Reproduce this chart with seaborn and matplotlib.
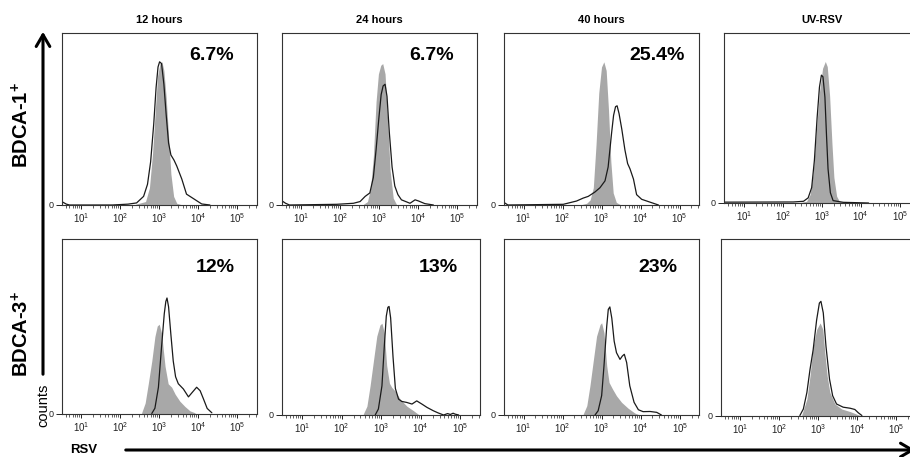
import numpy as np
import matplotlib
matplotlib.use("Agg")
import matplotlib.pyplot as plt
from matplotlib.patches import FancyArrowPatch
from matplotlib.ticker import LogLocator, NullFormatter, FixedLocator
import seaborn as sns

# ---------------- data (x in log10 units of RSV fluorescence, y = % of panel height) -------------
col_titles = ["12 hours", "24 hours", "40 hours", "UV-RSV"]
row_labels = ["BDCA-1$^{+}$", "BDCA-3$^{+}$"]
pct_row1 = ["6.7%", "6.7%", "25.4%", ""]
pct_row2 = ["12%", "13%", "23%", ""]
xtick_labels = ["$10^{1}$", "$10^{2}$", "$10^{3}$", "$10^{4}$", "$10^{5}$"]

r1c1_gray_x = [2.40, 2.65, 2.75, 2.83, 2.90, 2.96, 3.02, 3.07, 3.12, 3.18, 3.24, 3.30, 3.37, 3.45, 3.60]
r1c1_gray_y = [0.5, 2, 10, 30, 55, 75, 82, 83, 78, 62, 40, 18, 5, 1, 0]
r1c1_line_x = [0.50, 0.62, 0.70, 1.80, 2.20, 2.42, 2.60, 2.70, 2.78, 2.86, 2.92, 2.97, 3.01, 3.06,
               3.12, 3.18, 3.24, 3.30, 3.38, 3.45, 3.58, 3.70, 3.83, 3.96, 4.09, 4.30]
r1c1_line_y = [2, 0.5, 0, 0, 0.5, 1.2, 5, 12, 25, 47, 68, 80, 83, 82, 70, 52, 36, 29, 26, 22.6, 15,
               6.3, 4.4, 2.5, 0.6, 0]

r1c2_gray_x = [2.60, 2.70, 2.78, 2.85, 2.92, 2.98, 3.04, 3.09, 3.15, 3.21, 3.28, 3.36, 3.45]
r1c2_gray_y = [0.5, 2, 10, 28, 60, 76, 81, 82, 76, 52, 20, 4, 0]
r1c2_line_x = [0.50, 0.60, 0.70, 1.91, 2.34, 2.51, 2.64, 2.76, 2.85, 2.92, 2.99, 3.05, 3.10, 3.15,
               3.20, 3.26, 3.33, 3.40, 3.48, 3.57, 3.79, 3.92, 4.00, 4.17, 4.39]
r1c2_line_y = [2.5, 1, 0, 0.4, 1, 2, 5, 7, 16, 32, 50, 64, 69, 70, 63, 42, 22, 11, 6, 3, 1, 3, 2.4,
               0.8, 0]

r1c3_gray_x = [2.50, 2.62, 2.71, 2.79, 2.86, 2.93, 3.00, 3.06, 3.12, 3.18, 3.24, 3.30, 3.38, 3.47]
r1c3_gray_y = [0.3, 1, 3, 10, 35, 65, 80, 83, 78, 55, 25, 7, 1.5, 0.4]
r1c3_line_x = [0.50, 0.60, 2.02, 2.36, 2.53, 2.66, 2.83, 2.96, 3.09, 3.17, 3.26, 3.31, 3.36, 3.40,
               3.45, 3.52, 3.60, 3.67, 3.73, 3.82, 3.90, 4.03, 4.16, 4.33, 4.46]
r1c3_line_y = [1.5, 0, 0.4, 2.3, 4, 5, 7.5, 10, 14, 22, 42, 52, 57, 57.5, 53, 44, 32, 24, 21, 15, 6,
               3.3, 2.3, 1, 0]

r1c4_gray_x = [2.45, 2.61, 2.70, 2.78, 2.86, 2.94, 3.02, 3.09, 3.14, 3.20, 3.26, 3.31, 3.38, 3.45, 3.55]
r1c4_gray_y = [0.3, 1, 5, 18, 42, 65, 79, 83, 80, 63, 35, 15, 4, 1, 0.6]
r1c4_line_x = [0.50, 2.27, 2.53, 2.65, 2.74, 2.81, 2.88, 2.94, 2.99, 3.03, 3.08, 3.12, 3.16, 3.22,
               3.29, 3.55, 3.89, 4.20]
r1c4_line_y = [0.5, 0.6, 1, 3, 9, 25, 50, 68, 75, 74, 62, 40, 20, 6, 1.4, 0.4, 0.2, 0]

r2c1_gray_x = [2.55, 2.64, 2.72, 2.81, 2.89, 2.95, 3.00, 3.06, 3.15, 3.23, 3.32, 3.41, 3.53, 3.66,
               3.79, 3.92]
r2c1_gray_y = [0.4, 6, 17, 30, 44, 50, 51, 46, 27, 17, 15, 11, 7, 4, 1.5, 0.4]
r2c1_line_x = [2.81, 2.89, 2.98, 3.06, 3.13, 3.17, 3.20, 3.24, 3.30, 3.36, 3.42, 3.49, 3.62, 3.75,
               3.86, 3.96, 4.05, 4.13, 4.23, 4.35]
r2c1_line_y = [0, 3, 15, 38, 57, 64, 66, 61, 45, 30, 21, 17, 14, 9.5, 12.4, 15, 13, 8.6, 2.9, 0.4]

r2c2_gray_x = [2.55, 2.64, 2.72, 2.81, 2.89, 2.97, 3.02, 3.08, 3.14, 3.21, 3.27, 3.35, 3.48, 3.65,
               3.82, 3.94]
r2c2_gray_y = [0.6, 5, 16.5, 31.5, 44.7, 51, 52, 46.5, 28, 18, 15.6, 13.7, 9, 5, 2.4, 0.4]
r2c2_line_x = [2.85, 2.93, 3.02, 3.08, 3.13, 3.17, 3.20, 3.24, 3.30, 3.36, 3.44, 3.52, 3.65, 3.78,
               3.90, 4.03, 4.16, 4.32, 4.45, 4.58, 4.68, 4.75, 4.82, 4.87, 4.96]
r2c2_line_y = [0, 3.4, 16.5, 39, 56, 61, 61.5, 55, 33, 15, 9, 7.7, 7.1, 6.2, 8, 6.2, 4.3, 2.4, 1.1,
               0, 0.8, 0.3, 1, 0.5, 0]

r2c3_gray_x = [2.53, 2.62, 2.70, 2.79, 2.87, 2.96, 3.00, 3.06, 3.13, 3.19, 3.28, 3.38, 3.51, 3.68,
               3.85, 3.94]
r2c3_gray_y = [0.6, 5.3, 16.6, 31.6, 44.8, 51.4, 52.4, 46.7, 27.9, 18.5, 14.7, 10.9, 7.2, 3.8, 1.1, 0.3]
r2c3_line_x = [2.83, 2.91, 3.00, 3.06, 3.13, 3.17, 3.21, 3.26, 3.32, 3.38, 3.47, 3.53, 3.58, 3.64,
               3.72, 3.83, 3.94, 4.06, 4.24, 4.41, 4.53]
r2c3_line_y = [0, 2.4, 11, 28, 50.5, 60, 61.4, 55, 42, 35.4, 31.6, 33.5, 34.5, 29.8, 16.6, 7.2, 3,
               1.9, 2, 1.5, 0]

r2c4_gray_x = [2.58, 2.71, 2.79, 2.87, 2.96, 3.05, 3.12, 3.17, 3.23, 3.30, 3.43, 3.60, 3.82, 3.99, 4.07]
r2c4_gray_y = [0.4, 9.3, 22.4, 39, 48.6, 52.3, 48.6, 35.5, 22.4, 13, 6.5, 3.7, 2.2, 0.7, 0]
r2c4_line_x = [2.53, 2.62, 2.71, 2.79, 2.87, 2.96, 3.03, 3.07, 3.13, 3.20, 3.29, 3.37, 3.47, 3.64,
               3.82, 3.94, 4.03, 4.12]
r2c4_line_y = [0, 3.7, 13, 26, 37, 54, 63.5, 64.5, 58, 39, 20.6, 11.2, 6.5, 4.7, 4.1, 3.4, 1.5, 0]

gray_x = [[r1c1_gray_x, r1c2_gray_x, r1c3_gray_x, r1c4_gray_x],
          [r2c1_gray_x, r2c2_gray_x, r2c3_gray_x, r2c4_gray_x]]
gray_y = [[r1c1_gray_y, r1c2_gray_y, r1c3_gray_y, r1c4_gray_y],
          [r2c1_gray_y, r2c2_gray_y, r2c3_gray_y, r2c4_gray_y]]
line_x = [[r1c1_line_x, r1c2_line_x, r1c3_line_x, r1c4_line_x],
          [r2c1_line_x, r2c2_line_x, r2c3_line_x, r2c4_line_x]]
line_y = [[r1c1_line_y, r1c2_line_y, r1c3_line_y, r1c4_line_y],
          [r2c1_line_y, r2c2_line_y, r2c3_line_y, r2c4_line_y]]
pcts = [pct_row1, pct_row2]

# ---------------- layout (pixels) ----------------
W, H = 910, 457
boxes = [[(61.7, 256.7, 32.5, 205.0), (281.7, 476.7, 32.5, 205.0),
          (504.0, 699.0, 32.5, 205.0), (724.3, 919.3, 32.5, 203.0)],
         [(61.7, 256.7, 238.5, 413.5), (282.3, 480.0, 238.5, 415.0),
          (504.0, 699.3, 239.0, 415.0), (720.7, 915.7, 238.5, 415.5)]]
pct_pos = [[(212, 55), (432, 55), (657, 55), None],
           [(215, 268), (438, 267), (658, 267), None]]

sns.set_style("white")
plt.rcParams["font.family"] = ["Liberation Sans", "DejaVu Sans"]
plt.rcParams["mathtext.default"] = "regular"
plt.rcParams["text.color"] = "black"

fig = plt.figure(figsize=(W / 100, H / 100), dpi=100)

def fx(px):
    return px / W

def fy(py):
    return 1 - py / H

for r in range(2):
    for c in range(4):
        L, R, T, B = boxes[r][c]
        ax = fig.add_axes([fx(L), fy(B), (R - L) / W, (B - T) / H])
        gx = np.power(10.0, np.array(gray_x[r][c]))
        gy = np.array(gray_y[r][c])
        ax.fill_between(gx, gy, 0, color="#a8a8a8", lw=0, zorder=1)
        lx = np.power(10.0, np.array(line_x[r][c]))
        ly = np.array(line_y[r][c])
        sns.lineplot(x=lx, y=ly, ax=ax, color="#1a1a1a", lw=0.9, zorder=2)
        ax.set_xscale("log")
        ax.set_xlim(10 ** 0.5, 10 ** 5.5)
        ax.set_ylim(0, 100)
        ax.set_xlabel("")
        ax.set_ylabel("")
        ax.xaxis.set_major_locator(FixedLocator([10, 100, 1000, 1e4, 1e5]))
        ax.set_xticklabels(xtick_labels)
        ax.xaxis.set_minor_locator(LogLocator(base=10, subs=np.arange(2, 10), numticks=20))
        ax.xaxis.set_minor_formatter(NullFormatter())
        ax.set_yticks([0])
        ax.set_yticklabels(["0"])
        ax.tick_params(axis="x", which="major", direction="out", length=3.2, width=0.7,
                       labelsize=7, pad=1.5, colors="#222222", bottom=True)
        ax.tick_params(axis="x", which="minor", direction="out", length=1.8, width=0.5,
                       colors="#222222", bottom=True)
        ax.tick_params(axis="y", which="major", direction="out", length=4.5, width=0.7,
                       labelsize=6.5, pad=1.5, colors="#222222", left=True)
        for s in ax.spines.values():
            s.set_visible(True)
            s.set_color("#333333")
            s.set_linewidth(0.8)
        if r == 0:
            fig.text(fx((L + R) / 2), fy(20), col_titles[c], ha="center", va="center",
                     fontsize=8, fontweight="bold", color="black")
        if pct_pos[r][c] is not None and pcts[r][c]:
            px, py = pct_pos[r][c]
            fig.text(fx(px), fy(py), pcts[r][c], ha="center", va="center",
                     fontsize=14, fontweight="bold", color="black")

# row labels
fig.text(fx(22), fy(125), row_labels[0], rotation=90, ha="center", va="center",
         fontsize=14.5, fontweight="bold", color="black")
fig.text(fx(22), fy(334), row_labels[1], rotation=90, ha="center", va="center",
         fontsize=14.5, fontweight="bold", color="black")

# vertical "counts" arrow
fig.add_artist(FancyArrowPatch((fx(43), fy(377)), (fx(43), fy(29)), transform=fig.transFigure,
                               arrowstyle="->,head_length=0.6,head_width=0.35",
                               mutation_scale=14, lw=2.2, color="black"))
fig.text(fx(43), fy(405), "counts", rotation=90, ha="center", va="center", fontsize=10.5,
         color="black")

# horizontal "RSV" arrow
fig.text(fx(84), fy(450), "RSV", ha="center", va="center", fontsize=9.5, fontweight="bold",
         color="black")
fig.add_artist(FancyArrowPatch((fx(123), fy(450)), (fx(918), fy(450)), transform=fig.transFigure,
                               arrowstyle="->,head_length=0.6,head_width=0.35",
                               mutation_scale=14, lw=2.2, color="black"))

fig.savefig("out.png", dpi=100)
